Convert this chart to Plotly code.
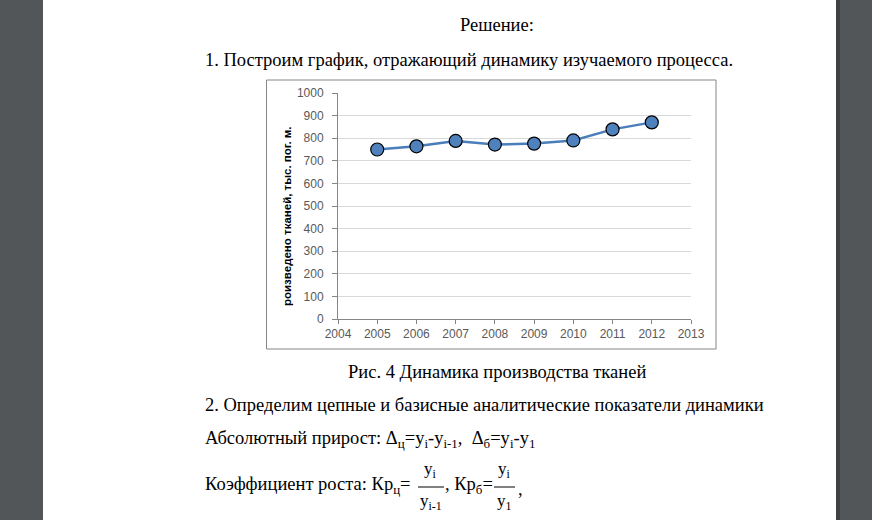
import plotly.graph_objects as go

# ---- data ----
years = [2005, 2006, 2007, 2008, 2009, 2010, 2011, 2012]
output = [750, 764, 788, 772, 776, 790, 839, 870]
y_title = "роизведено тканей, тыс. пог. м."
caption = "Рис. 4 Динамика производства тканей"

W, H = 872, 520
L, R, T, B = 338, 181, 93, 201
PW, PH = W - L - R, H - T - B


def PX(x):
    return (x - L) / PW


def PY(y):
    return (H - B - y) / PH


fig = go.Figure()
fig.add_trace(go.Scatter(
    x=years, y=output, mode="lines+markers",
    line=dict(color="#4a7ebb", width=2.5),
    marker=dict(size=13, color="#4f81bd", line=dict(color="#000000", width=1.2)),
    showlegend=False, hoverinfo="skip",
))

axis_font = dict(family="Liberation Sans, Arial, sans-serif", size=12, color="#595959")
fig.update_xaxes(range=[2004, 2013], dtick=1, tick0=2004, showgrid=False, zeroline=False,
                 showline=True, linecolor="#868686", linewidth=1,
                 ticks="outside", ticklen=4, tickcolor="#868686", tickfont=axis_font)
fig.update_yaxes(range=[0, 1000], dtick=100, showgrid=True, gridcolor="#d9d9d9", gridwidth=1,
                 zeroline=False, showline=True, linecolor="#868686", linewidth=1,
                 ticks="outside", ticklen=5, tickcolor="#868686", tickfont=axis_font,
                 ticklabelstandoff=6)

shapes = [
    dict(type="rect", xref="paper", yref="paper", x0=PX(43), x1=PX(836), y0=PY(0), y1=PY(H),
         fillcolor="#ffffff", line=dict(width=0), layer="below"),
    dict(type="rect", xref="paper", yref="paper", x0=PX(836), x1=PX(840), y0=PY(0), y1=PY(H),
         fillcolor="#3f4245", line=dict(width=0), layer="below"),
    dict(type="rect", xref="paper", yref="paper", x0=PX(266.5), x1=PX(716), y0=PY(80), y1=PY(349),
         fillcolor="rgba(0,0,0,0)", line=dict(color="#868686", width=1), layer="below"),
    # fraction bars
    dict(type="line", xref="paper", yref="paper", x0=PX(418), x1=PX(444), y0=PY(487), y1=PY(487),
         line=dict(color="#000000", width=1)),
    dict(type="line", xref="paper", yref="paper", x0=PX(494), x1=PX(515), y0=PY(487), y1=PY(487),
         line=dict(color="#000000", width=1)),
]

serif = "Liberation Serif, Times New Roman, serif"
FS = 18.5


def ann(text, x, y, xanchor="left", size=FS, **kw):
    return dict(text=text, x=PX(x), y=PY(y), xref="paper", yref="paper",
                xanchor=xanchor, yanchor="middle", showarrow=False,
                font=dict(family=serif, size=size, color="#000000"), **kw)


annotations = [
    ann("Решение:", 497, 25, "center"),
    ann("1. Построим график, отражающий динамику изучаемого процесса.", 203, 60),
    ann(caption, 497, 372, "center"),
    ann("2. Определим цепные и базисные аналитические показатели динамики", 203, 405),
    ann("Абсолютный прирост: Δ<sub>ц</sub>=y<sub>i</sub>-y<sub>i-1</sub>,  Δ<sub>б</sub>=y<sub>i</sub>-y<sub>1</sub>", 203, 439),
    ann("Коэффициент роста: Кр<sub>ц</sub>=", 203, 485),
    ann("y<sub>i</sub>", 430, 470, "center", size=17),
    ann("y<sub>i-1</sub>", 431, 502, "center", size=17),
    ann(", Кр<sub>б</sub>=", 443, 485),
    ann("y<sub>i</sub>", 504, 470, "center", size=17),
    ann("y<sub>1</sub>", 504, 502, "center", size=17),
    ann(",", 516, 489),
    dict(text="<b>" + y_title + "</b>", x=PX(287), y=PY(216), xref="paper", yref="paper",
         xanchor="center", yanchor="middle", showarrow=False, textangle=-90,
         font=dict(family="Liberation Sans, Arial, sans-serif", size=11.5, color="#000000")),
]

fig.update_layout(
    width=W, height=H,
    margin=dict(l=L, r=R, t=T, b=B, pad=0),
    paper_bgcolor="#525659", plot_bgcolor="#ffffff",
    shapes=shapes, annotations=annotations,
)

fig.write_html("out.html", config={"displayModeBar": False},
               post_script="document.body.style.margin='0px';")
